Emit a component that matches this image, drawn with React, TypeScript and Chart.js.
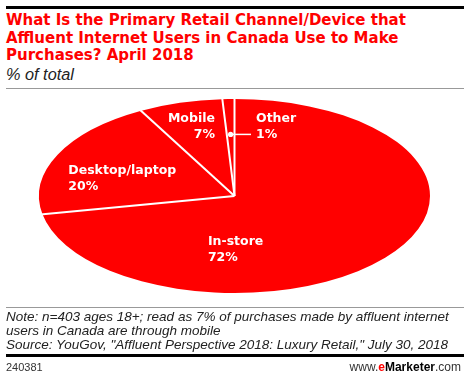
import React, { useEffect, useRef } from 'react';
import { Chart, registerables } from 'chart.js';

Chart.register(...registerables);

// ---- data ----
const categories = ['In-store', 'Desktop/laptop', 'Mobile', 'Other'];
const shares = [72, 20, 7, 1];
const valueLabels = ['72%', '20%', '7%', '1%'];

// ---- layout (not data) ----
const PIE = { cx: 234.5, cy: 196, rx: 195.5, ry: 97 };
const RED = '#ff0000';
const LABEL_LAYOUT = [
  { u: -0.136, v: 0.47, align: 'left', leader: false },
  { u: -0.85, v: -0.26, align: 'left', leader: false },
  { u: -0.1, v: -0.8, align: 'right', leader: false },
  { u: 0.11, v: -0.8, align: 'left', leader: true },
];
const LABEL_FONT = 'bold 12.5px "DejaVu Sans"';
const LINE_GAP = 16;

const ellipsePlugin = {
  id: 'ellipsePie',
  beforeDatasetsDraw(chart: any) {
    const arc: any = chart.getDatasetMeta(0).data[0];
    const ctx = chart.ctx;
    ctx.save();
    ctx.translate(PIE.cx, PIE.cy);
    ctx.scale(PIE.rx / arc.outerRadius, PIE.ry / arc.outerRadius);
    ctx.translate(-arc.x, -arc.y);
  },
  afterDatasetsDraw(chart: any) {
    const ctx = chart.ctx;
    ctx.restore();
    const arcs: any[] = chart.getDatasetMeta(0).data;
    ctx.save();
    // separators
    ctx.strokeStyle = '#ffffff';
    ctx.lineWidth = 2;
    ctx.lineCap = 'butt';
    arcs.forEach((a) => {
      const ang = a.startAngle;
      ctx.beginPath();
      ctx.moveTo(PIE.cx, PIE.cy);
      ctx.lineTo(PIE.cx + (PIE.rx + 2) * Math.cos(ang), PIE.cy + (PIE.ry + 2) * Math.sin(ang));
      ctx.stroke();
    });
    // labels
    ctx.font = LABEL_FONT;
    ctx.fillStyle = '#ffffff';
    ctx.textBaseline = 'middle';
    arcs.forEach((a, i) => {
      const lay = LABEL_LAYOUT[i];
      const x = PIE.cx + lay.u * PIE.rx;
      const y1 = PIE.cy + lay.v * PIE.ry;
      const y2 = y1 + LINE_GAP;
      ctx.textAlign = lay.align;
      ctx.fillText(chart.data.labels[i], x, y1);
      ctx.fillText(valueLabels[i], x, y2);
      if (lay.leader) {
        const m = (a.startAngle + a.endAngle) / 2;
        const t = (y2 - PIE.cy) / (PIE.ry * Math.sin(m));
        const dx = PIE.cx + t * PIE.rx * Math.cos(m);
        ctx.strokeStyle = '#ffffff';
        ctx.lineWidth = 1.5;
        ctx.beginPath();
        ctx.moveTo(dx, y2);
        ctx.lineTo(x - 5, y2);
        ctx.stroke();
        ctx.beginPath();
        ctx.arc(dx, y2, 2.6, 0, Math.PI * 2);
        ctx.fill();
      }
    });
    ctx.restore();
  },
};

export default function App() {
  const ref = useRef<HTMLCanvasElement | null>(null);
  useEffect(() => {
    if (!ref.current) return;
    const chart = new Chart(ref.current, {
      type: 'pie',
      data: {
        labels: categories,
        datasets: [
          {
            data: shares,
            backgroundColor: RED,
            borderWidth: 0,
            clip: false as any,
          },
        ],
      },
      options: {
        responsive: false,
        maintainAspectRatio: false,
        devicePixelRatio: 1,
        animation: false,
        events: [],
        layout: { padding: 0 },
        plugins: { legend: { display: false }, tooltip: { enabled: false } },
      },
      plugins: [ellipsePlugin],
    });
    return () => chart.destroy();
  }, []);

  const sans = '"Liberation Sans", Arial, sans-serif';
  return (
    <div style={{ position: 'absolute', left: 0, top: 0, width: 470, height: 376, background: '#fff', overflow: 'hidden' }}>
      <div style={{ position: 'absolute', left: 6, top: 6, width: 458, height: 3, background: '#000' }} />
      <div
        style={{
          position: 'absolute', left: 6, top: 12, width: 460,
          font: 'bold 15px "DejaVu Sans"', lineHeight: '17.5px', color: RED, whiteSpace: 'nowrap',
        }}
      >
        What Is the Primary Retail Channel/Device that<br />
        Affluent Internet Users in Canada Use to Make<br />
        Purchases? April 2018
      </div>
      <div style={{ position: 'absolute', left: 6, top: 65, font: `italic 16.3px ${sans}`, lineHeight: '19px', color: '#222' }}>
        % of total
      </div>
      <div style={{ position: 'absolute', left: 6, top: 88, width: 458, height: 1, background: '#999' }} />
      <canvas ref={ref} width={470} height={376} style={{ position: 'absolute', left: 0, top: 0, width: 470, height: 376 }} />
      <div style={{ position: 'absolute', left: 6, top: 307, width: 458, height: 1, background: '#999' }} />
      <div
        style={{
          position: 'absolute', left: 6, top: 309.5, font: `italic 13.5px ${sans}`, lineHeight: '14px', color: '#222', whiteSpace: 'nowrap',
        }}
      >
        Note: n=403 ages 18+; read as 7% of purchases made by affluent internet<br />
        users in Canada are through mobile<br />
        Source: YouGov, "Affluent Perspective 2018: Luxury Retail," July 30, 2018
      </div>
      <div style={{ position: 'absolute', left: 6, top: 354, width: 458, height: 3, background: '#000' }} />
      <div style={{ position: 'absolute', left: 6, top: 361, font: `11px ${sans}`, lineHeight: '13px', color: '#333' }}>240381</div>
      <div style={{ position: 'absolute', right: 9, top: 360, font: `12px ${sans}`, lineHeight: '14px', color: '#333', whiteSpace: 'nowrap' }}>
        www.<span style={{ color: RED, fontWeight: 'bold' }}>e</span>
        <span style={{ color: '#000', fontWeight: 'bold' }}>Marketer</span>.com
      </div>
    </div>
  );
}
